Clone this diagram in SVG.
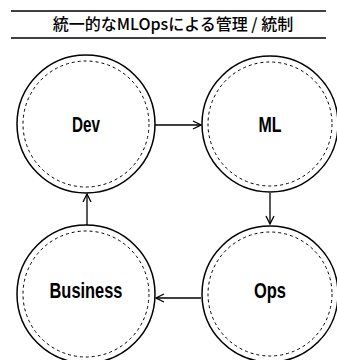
<svg xmlns="http://www.w3.org/2000/svg" width="337" height="360" viewBox="0 0 337 360">
<style>
.rule{stroke:#000;stroke-width:1.5}
.outer{fill:#fff;stroke:#000;stroke-width:1.5}
.inner{fill:none;stroke:#000;stroke-width:1;stroke-dasharray:3 3}
.lbl{font-family:"Liberation Sans",Arial,sans-serif;font-weight:bold;font-size:22px;text-anchor:middle;fill:#000}
.title{font-family:"Noto Sans CJK JP","Noto Sans",sans-serif;font-weight:500;font-size:16px;text-anchor:middle;fill:#000}
.conn{stroke:#000;stroke-width:1.3;fill:none}
</style>
<defs>
<marker id="ah" viewBox="0 0 10 10" refX="9" refY="5" markerWidth="10" markerHeight="10" markerUnits="userSpaceOnUse" orient="auto">
<path d="M1,1 L9,5 L1,9" fill="none" stroke="#000" stroke-width="1.3"/>
</marker>
</defs>
<rect width="337" height="360" fill="#fff"/>
<g id="title">
<line class="rule" x1="11" y1="11" x2="326" y2="11"/>
<text class="title" x="173" y="30">統一的なMLOpsによる管理 / 統制</text>
<line class="rule" x1="11" y1="38" x2="326" y2="38"/>
</g>
<g id="connectors">
<line class="conn" x1="155" y1="125" x2="201" y2="125" marker-end="url(#ah)"/>
<line class="conn" x1="270" y1="193" x2="270" y2="224" marker-end="url(#ah)"/>
<line class="conn" x1="201" y1="298" x2="156" y2="298" marker-end="url(#ah)"/>
<line class="conn" x1="87" y1="225" x2="87" y2="194" marker-end="url(#ah)"/>
</g>
<g id="dev">
<circle class="outer" cx="86" cy="124" r="69"/>
<circle class="inner" cx="86" cy="124" r="63"/>
<text class="lbl" x="86" y="132" textLength="28" lengthAdjust="spacingAndGlyphs">Dev</text>
</g>
<g id="ml">
<circle class="outer" cx="270" cy="124" r="68"/>
<circle class="inner" cx="270" cy="124" r="62"/>
<text class="lbl" x="270" y="132" textLength="23" lengthAdjust="spacingAndGlyphs">ML</text>
</g>
<g id="business">
<circle class="outer" cx="86" cy="294" r="69"/>
<circle class="inner" cx="86" cy="294" r="63"/>
<text class="lbl" x="86" y="298" textLength="73" lengthAdjust="spacingAndGlyphs">Business</text>
</g>
<g id="ops">
<circle class="outer" cx="270" cy="294" r="68"/>
<circle class="inner" cx="270" cy="294" r="62"/>
<text class="lbl" x="270" y="298" textLength="32" lengthAdjust="spacingAndGlyphs">Ops</text>
</g>
</svg>
